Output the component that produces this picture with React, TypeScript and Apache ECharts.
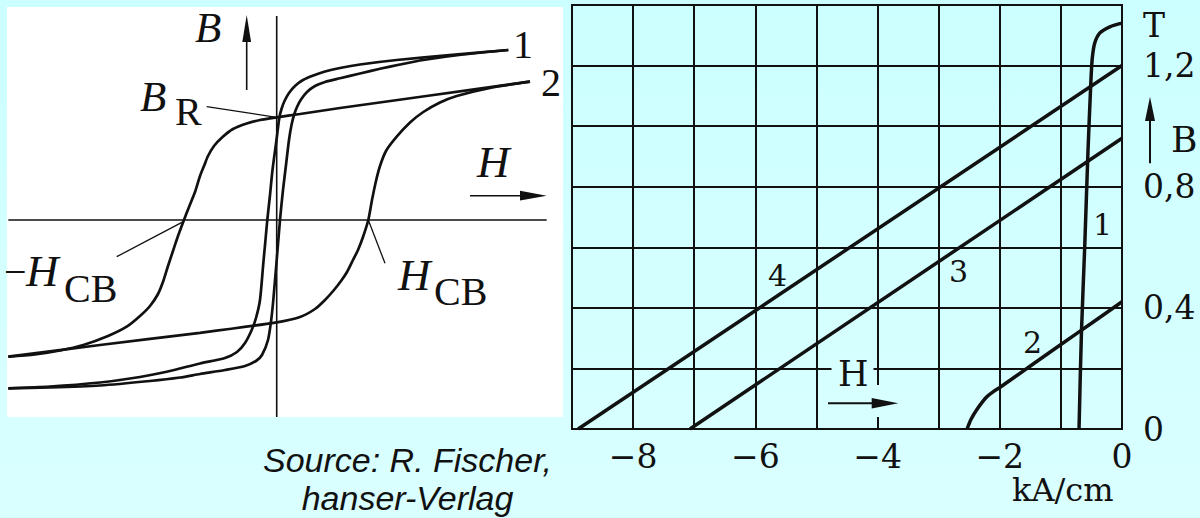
import React, { useEffect, useRef } from 'react';
import * as echarts from 'echarts';

// ---------- Left panel: schematic hysteresis loops (H, B in arbitrary units, origin at the axes crossing) ----------
// loop 1: narrow loop; "down" = descending branch from +saturation, "up" = ascending branch
const LOOP1_DOWN: number[][] = [
  [2.316, 1.70], [1.70, 1.647], [1.20, 1.60], [0.833, 1.555], [0.633, 1.52], [0.483, 1.485],
  [0.366, 1.445], [0.263, 1.40], [0.188, 1.345], [0.123, 1.27], [0.078, 1.19], [0.048, 1.11],
  [0.026, 1.02], [-0.002, 0.80], [-0.042, 0.50], [-0.067, 0.25], [-0.094, 0], [-0.114, -0.22],
  [-0.134, -0.433], [-0.167, -0.80], [-0.207, -0.98], [-0.25, -1.10], [-0.317, -1.23],
  [-0.397, -1.32], [-0.517, -1.38], [-0.767, -1.435], [-1.10, -1.517], [-1.467, -1.585],
  [-1.767, -1.625], [-2.267, -1.665], [-2.684, -1.683],
];
const LOOP1_UP: number[][] = [
  [-2.684, -1.683], [-2.267, -1.675], [-1.767, -1.655], [-1.267, -1.61], [-0.967, -1.575],
  [-0.767, -1.54], [-0.517, -1.50], [-0.317, -1.46], [-0.207, -1.41], [-0.147, -1.35],
  [-0.087, -1.20], [-0.055, -1.0], [-0.034, -0.80], [0, -0.40], [0.033, 0], [0.063, 0.30],
  [0.093, 0.55], [0.123, 0.80], [0.148, 0.95], [0.173, 1.05], [0.203, 1.13], [0.243, 1.205],
  [0.303, 1.28], [0.383, 1.34], [0.483, 1.38], [0.633, 1.417], [0.833, 1.465], [1.033, 1.512],
  [1.233, 1.555], [1.466, 1.60], [1.863, 1.655], [2.316, 1.70],
];
// loop 2: wide loop
const LOOP2_DOWN: number[][] = [
  [2.533, 1.383], [1.533, 1.245], [0.633, 1.12], [0.233, 1.06], [0, 1.027], [-0.167, 1.0],
  [-0.30, 0.965], [-0.437, 0.91], [-0.547, 0.825], [-0.627, 0.74], [-0.687, 0.64], [-0.727, 0.54],
  [-0.767, 0.44], [-0.817, 0.28], [-0.877, 0.13], [-0.934, -0.017], [-0.987, -0.16], [-1.034, -0.30],
  [-1.087, -0.46], [-1.134, -0.61], [-1.187, -0.74], [-1.267, -0.86], [-1.367, -0.96],
  [-1.50, -1.067], [-1.687, -1.16], [-1.934, -1.25], [-2.167, -1.305], [-2.417, -1.345], [-2.684, -1.367],
];
const LOOP2_UP: number[][] = [
  [-2.684, -1.367], [-1.767, -1.25], [-0.767, -1.128], [0, -1.023], [0.233, -0.97], [0.383, -0.89],
  [0.483, -0.80], [0.573, -0.70], [0.643, -0.61], [0.703, -0.52], [0.763, -0.40], [0.813, -0.30],
  [0.863, -0.17], [0.916, 0], [0.953, 0.20], [0.993, 0.39], [1.033, 0.54], [1.093, 0.69],
  [1.20, 0.833], [1.333, 0.975], [1.466, 1.08], [1.633, 1.175], [1.80, 1.24], [2.133, 1.322], [2.533, 1.383],
];
const LEFT_H_AXIS: number[][] = [[-2.684, 0], [2.70, 0]];
const LEFT_B_AXIS: number[][] = [[0, 2.04], [0, -1.97]];

// ---------- Right panel: demagnetisation curves, H in kA/cm, B in T ----------
const CURVE1: number[][] = [
  [-0.703, 0], [-0.664, 0.316], [-0.61, 0.602], [-0.556, 0.921], [-0.515, 1.12], [-0.50, 1.185],
  [-0.484, 1.229], [-0.447, 1.274], [-0.365, 1.307], [-0.20, 1.328], [0, 1.34],
];
const CURVE2: number[][] = [
  [-2.535, 0], [-2.47, 0.032], [-2.38, 0.063], [-2.22, 0.105], [-2.1, 0.124], [-2.0, 0.137],
  [-1.5, 0.208], [-1.0, 0.279], [-0.5, 0.349], [0, 0.42],
];
const LINE3: number[][] = [[-7.07, 0], [0, 0.96]];
const LINE4: number[][] = [[-8.9, 0], [0, 1.2]];

const H_TICKS = [-8, -6, -4, -2, 0];
const H_TICK_LABELS = ['−8', '−6', '−4', '−2', '0'];
const B_TICKS = [0, 0.4, 0.8, 1.2];
const B_TICK_LABELS = ['0', '0,4', '0,8', '1,2'];

const INK = '#111';
const BG = new echarts.graphic.LinearGradient(0, 0, 0, 518, [
  { offset: 0, color: '#ccffff' },
  { offset: 1, color: '#daffff' },
], true);

const pickLabel = (ticks: number[], labels: string[]) => (v: number) => {
  const i = ticks.findIndex((t) => Math.abs(t - v) < 1e-6);
  return i >= 0 ? labels[i] : '';
};

const text = (t: string, x: number, cy: number, font: string, align = 'left', fill = INK) => ({
  type: 'text',
  x,
  y: cy,
  z: 10,
  style: { text: t, font, fill, textAlign: align, textVerticalAlign: 'middle', align, verticalAlign: 'middle' },
});
const seg = (x1: number, y1: number, x2: number, y2: number, w = 1.4) => ({
  type: 'line',
  z: 10,
  shape: { x1, y1, x2, y2 },
  style: { stroke: INK, lineWidth: w },
});
const tri = (pts: number[][]) => ({
  type: 'polygon',
  z: 10,
  shape: { points: pts },
  style: { fill: INK },
});

const ITAL_B = 'italic 43px "Liberation Serif"';
const ITAL_H = 'italic 45px "Liberation Serif"';
const ROM = '40px "Liberation Serif"';
const RFONT = '"DejaVu Serif"';

const curve = (data: number[][], idx: number, width: number, smooth: number | boolean) => ({
  type: 'line',
  xAxisIndex: idx,
  yAxisIndex: idx,
  data,
  symbol: 'none',
  smooth,
  lineStyle: { color: INK, width },
  silent: true,
});

export default function App() {
  const ref = useRef<HTMLDivElement>(null);
  useEffect(() => {
    if (!ref.current) return;
    const chart = echarts.init(ref.current, null, { renderer: 'svg' });
    chart.setOption({
      animation: false,
      backgroundColor: BG,
      grid: [
        { left: 7, top: 7, width: 556, height: 410, show: true, backgroundColor: '#ffffff', borderWidth: 0 },
        { left: 572, top: 5, width: 550, height: 424, show: true, backgroundColor: 'transparent', borderColor: INK, borderWidth: 2 },
      ],
      xAxis: [
        { type: 'value', gridIndex: 0, min: -2.697, max: 2.863, show: false },
        {
          type: 'value', gridIndex: 1, min: -9, max: 0, interval: 1,
          axisLine: { show: false }, axisTick: { show: false },
          splitLine: { show: true, lineStyle: { color: INK, width: 2 } },
          axisLabel: {
            formatter: pickLabel(H_TICKS, H_TICK_LABELS), showMinLabel: true, showMaxLabel: true,
            margin: 27, verticalAlign: 'middle', fontFamily: RFONT, fontSize: 33, color: INK,
          },
        },
      ],
      yAxis: [
        { type: 'value', gridIndex: 0, min: -1.97, max: 2.13, show: false },
        {
          type: 'value', gridIndex: 1, position: 'right', min: 0, max: 1.4, interval: 0.2,
          axisLine: { show: false }, axisTick: { show: false },
          splitLine: { show: true, lineStyle: { color: INK, width: 2 } },
          axisLabel: {
            formatter: pickLabel(B_TICKS, B_TICK_LABELS), showMinLabel: true, showMaxLabel: true,
            margin: 21, fontFamily: RFONT, fontSize: 33, color: INK,
          },
        },
      ],
      series: [
        curve(LEFT_H_AXIS, 0, 1.6, false),
        curve(LEFT_B_AXIS, 0, 1.6, false),
        curve(LOOP2_DOWN, 0, 2.7, 0.25),
        curve(LOOP2_UP, 0, 2.7, 0.25),
        curve(LOOP1_DOWN, 0, 2.7, 0.25),
        curve(LOOP1_UP, 0, 2.7, 0.25),
        curve(LINE4, 1, 3.5, false),
        curve(LINE3, 1, 3.5, false),
        curve(CURVE2, 1, 3.5, 0.3),
        curve(CURVE1, 1, 3.5, 0.3),
      ],
      graphic: [
        // left panel annotations
        text('B', 195, 27, ITAL_B),
        seg(246.7, 90, 246.7, 38, 1.6),
        tri([[246.7, 15], [242.3, 42], [251.1, 42]]),
        text('B', 140, 96, ITAL_B),
        text('R', 175, 111, ROM),
        seg(206.7, 106.7, 276.7, 117.3, 1.3),
        text('1', 513, 44, ROM),
        text('2', 541, 82, ROM),
        text('H', 477, 162, ITAL_H),
        seg(470, 195.7, 522, 195.7, 1.6),
        tri([[546.7, 195.7], [520, 190.8], [520, 200.6]]),
        text('−', 4, 271, ROM),
        text('H', 26, 271, ITAL_H),
        text('CB', 64, 288, ROM),
        seg(116.7, 256.7, 183.3, 221.7, 1.3),
        text('H', 398, 275, ITAL_H),
        text('CB', 434, 291, ROM),
        seg(385, 263.3, 368.3, 220, 1.3),
        // right panel annotations
        { type: 'rect', z: 1, shape: { x: 831.5, y: 358, width: 42, height: 22 }, style: { fill: BG } },
        { type: 'rect', z: 1, shape: { x: 870, y: 385, width: 14, height: 32 }, style: { fill: BG } },
        text('H', 838, 374, `35px ${RFONT}`),
        seg(828, 403.3, 874, 403.3, 2),
        tri([[898.3, 403.3], [871.7, 398], [871.7, 408.6]]),
        text('T', 1143, 25, `33px ${RFONT}`),
        seg(1150, 163.3, 1150, 118, 2),
        tri([[1150, 96.7], [1145, 121], [1155, 121]]),
        text('B', 1171, 139, `36px ${RFONT}`),
        text('kA/cm', 1012, 490, `32px ${RFONT}`),
        text('1', 1093, 224, `30px ${RFONT}`),
        text('2', 1023, 342, `30px ${RFONT}`),
        text('3', 949, 271, `30px ${RFONT}`),
        text('4', 768, 275, `30px ${RFONT}`),
        // attribution
        text('Source: R. Fischer,', 407.5, 460, 'italic 34px "Liberation Sans"', 'center'),
        text('hanser-Verlag', 407.5, 498, 'italic 34px "Liberation Sans"', 'center'),
      ],
    });
    return () => chart.dispose();
  }, []);
  return <div ref={ref} style={{ position: 'absolute', left: 0, top: 0, width: 1200, height: 518 }} />;
}
